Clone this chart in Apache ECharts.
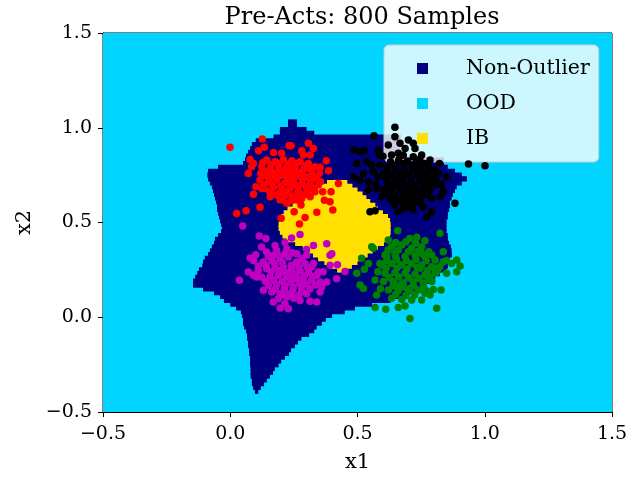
<!DOCTYPE html>
<html>
<head>
<meta charset="utf-8">
<script src="https://cdn.jsdelivr.net/npm/echarts@6/dist/echarts.min.js"></script>
<style>
html, body { margin: 0; padding: 0; background: #fff; }
#chart { width: 641px; height: 478px; }
</style>
</head>
<body>
<div id="chart"></div>
<script>
// axis limits / ticks
const xLim = [-0.5, 1.5];
const yLim = [-0.5, 1.5];
const tickStep = 0.5;
const cellH = 0.02; // height of one decision-map row

// decision map rows: [row centre y, x from, x to]
const nonOutlierRows = [
  [1.03, 0.227, 0.262], [1.01, 0.227, 0.262], [0.99, 0.195, 0.30], [0.97, 0.195, 0.33],
  [0.95, 0.17, 0.67], [0.93, 0.10, 0.67], [0.91, 0.085, 0.67], [0.89, 0.078, 0.67],
  [0.87, 0.07, 0.67], [0.85, 0.062, 0.68], [0.83, 0.058, 0.84], [0.81, 0.05, 0.84],
  [0.79, -0.048, 0.855], [0.77, -0.087, 0.883], [0.75, -0.09, 0.91], [0.73, -0.087, 0.93],
  [0.71, -0.08, 0.91], [0.69, -0.072, 0.89], [0.67, -0.068, 0.883], [0.65, -0.064, 0.875],
  [0.63, -0.06, 0.87], [0.61, -0.056, 0.863], [0.59, -0.052, 0.863], [0.57, -0.052, 0.86],
  [0.55, -0.048, 0.855], [0.53, -0.044, 0.855], [0.51, -0.04, 0.85], [0.49, -0.036, 0.85],
  [0.47, -0.032, 0.85], [0.45, -0.036, 0.85], [0.43, -0.048, 0.855], [0.41, -0.06, 0.855],
  [0.39, -0.064, 0.86], [0.37, -0.072, 0.867], [0.35, -0.08, 0.87], [0.33, -0.087, 0.871],
  [0.31, -0.10, 0.863], [0.29, -0.107, 0.855], [0.27, -0.11, 0.855], [0.25, -0.123, 0.848],
  [0.23, -0.13, 0.824], [0.21, -0.138, 0.805], [0.19, -0.146, 0.785], [0.17, -0.146, 0.765],
  [0.15, -0.107, 0.738], [0.13, -0.064, 0.706], [0.11, -0.04, 0.687], [0.09, -0.025, 0.63],
  [0.07, 0.0, 0.557], [0.05, 0.023, 0.49], [0.03, 0.042, 0.45], [0.01, 0.046, 0.40],
  [-0.01, 0.05, 0.376], [-0.03, 0.05, 0.36], [-0.05, 0.054, 0.34], [-0.07, 0.062, 0.33],
  [-0.09, 0.066, 0.31], [-0.11, 0.066, 0.28], [-0.13, 0.07, 0.266], [-0.15, 0.07, 0.254],
  [-0.17, 0.074, 0.239], [-0.19, 0.074, 0.231], [-0.21, 0.078, 0.215], [-0.23, 0.078, 0.20],
  [-0.25, 0.078, 0.19], [-0.27, 0.08, 0.175], [-0.29, 0.08, 0.168], [-0.31, 0.08, 0.156],
  [-0.33, 0.085, 0.144], [-0.35, 0.085, 0.133], [-0.37, 0.09, 0.12], [-0.39, 0.097, 0.11]
];

const ibRows = [
  [0.71, 0.38, 0.46], [0.69, 0.35, 0.48], [0.67, 0.32, 0.50], [0.65, 0.30, 0.52],
  [0.63, 0.285, 0.535], [0.61, 0.265, 0.55], [0.59, 0.245, 0.57], [0.57, 0.225, 0.58],
  [0.55, 0.21, 0.60], [0.53, 0.20, 0.62], [0.51, 0.195, 0.628], [0.49, 0.19, 0.63],
  [0.47, 0.19, 0.63], [0.45, 0.195, 0.63], [0.43, 0.205, 0.628], [0.41, 0.22, 0.62],
  [0.39, 0.255, 0.604], [0.37, 0.285, 0.58], [0.35, 0.31, 0.56], [0.33, 0.325, 0.54],
  [0.31, 0.345, 0.52], [0.29, 0.37, 0.50], [0.27, 0.39, 0.478], [0.25, 0.42, 0.45]
];

// samples [x1, x2]
const redPts = [
  [-0.001, 0.897], [0.126, 0.940], [0.134, 0.897], [0.231, 0.905], [0.239, 0.905], [0.307, 0.918],
  [0.327, 0.891], [0.111, 0.879], [0.170, 0.870], [0.202, 0.865], [0.281, 0.879], [0.288, 0.856],
  [0.314, 0.856], [0.078, 0.833], [0.091, 0.812], [0.071, 0.759], [0.084, 0.794], [0.377, 0.826],
  [0.386, 0.773], [0.353, 0.791], [0.425, 0.706], [0.363, 0.662], [0.396, 0.662], [0.370, 0.618],
  [0.392, 0.610], [0.403, 0.566], [0.340, 0.554], [0.294, 0.527], [0.272, 0.492], [0.251, 0.557],
  [0.200, 0.522], [0.278, 0.592], [0.314, 0.636], [0.117, 0.580], [0.062, 0.562], [0.025, 0.548],
  [0.091, 0.649], [0.101, 0.689], [0.124, 0.680], [0.156, 0.663], [0.196, 0.619], [0.222, 0.601],
  [0.261, 0.619],
  [0.143, 0.830], [0.176, 0.821], [0.209, 0.833], [0.242, 0.826], [0.274, 0.821], [0.307, 0.812],
  [0.333, 0.794], [0.124, 0.794], [0.157, 0.786], [0.189, 0.798], [0.222, 0.791], [0.255, 0.794],
  [0.288, 0.780], [0.320, 0.768], [0.137, 0.750], [0.170, 0.759], [0.202, 0.750], [0.235, 0.763],
  [0.268, 0.745], [0.301, 0.742], [0.340, 0.733], [0.117, 0.724], [0.150, 0.715], [0.183, 0.724],
  [0.215, 0.710], [0.248, 0.720], [0.281, 0.706], [0.314, 0.703], [0.346, 0.698], [0.137, 0.680],
  [0.170, 0.685], [0.202, 0.675], [0.235, 0.680], [0.268, 0.668], [0.301, 0.671], [0.333, 0.662],
  [0.183, 0.645], [0.215, 0.640], [0.248, 0.636], [0.281, 0.627], [0.222, 0.662], [0.255, 0.698],
  [0.196, 0.777], [0.288, 0.742], [0.327, 0.742], [0.163, 0.742], [0.261, 0.768], [0.229, 0.733],
  [0.307, 0.645], [0.157, 0.636],
  [0.128, 0.815], [0.160, 0.805], [0.193, 0.812], [0.226, 0.808], [0.260, 0.812], [0.293, 0.800],
  [0.145, 0.770], [0.178, 0.765], [0.212, 0.772], [0.245, 0.778], [0.278, 0.760], [0.310, 0.785],
  [0.150, 0.733], [0.185, 0.740], [0.218, 0.745], [0.252, 0.738], [0.285, 0.725], [0.318, 0.722],
  [0.130, 0.700], [0.165, 0.700], [0.198, 0.692], [0.232, 0.698], [0.265, 0.690], [0.298, 0.688],
  [0.328, 0.680], [0.160, 0.660], [0.195, 0.658], [0.230, 0.652], [0.262, 0.655], [0.290, 0.648],
  [0.205, 0.620], [0.240, 0.615], [0.120, 0.760], [0.350, 0.760], [0.355, 0.715]
];

const blackPts = [
  [0.565, 0.958], [0.647, 1.002], [0.647, 0.953], [0.621, 0.909], [0.667, 0.918], [0.700, 0.935],
  [0.719, 0.918], [0.726, 0.891], [0.687, 0.891], [0.660, 0.865], [0.752, 0.856], [0.785, 0.830],
  [0.719, 0.847], [0.634, 0.856], [0.510, 0.874], [0.526, 0.879], [0.484, 0.882], [0.582, 0.882],
  [0.586, 0.856], [0.497, 0.812], [0.536, 0.821], [0.556, 0.803], [0.588, 0.803], [0.484, 0.742],
  [0.523, 0.759], [0.562, 0.768], [0.510, 0.724], [0.543, 0.715], [0.543, 0.671], [0.575, 0.680],
  [0.549, 0.557], [0.569, 0.562], [0.660, 0.557], [0.680, 0.575], [0.719, 0.566], [0.759, 0.583],
  [0.791, 0.557], [0.772, 0.531], [0.746, 0.601], [0.791, 0.627], [0.824, 0.636], [0.883, 0.601],
  [0.822, 0.812], [0.936, 0.809], [1.001, 0.800], [0.818, 0.759], [0.850, 0.742], [0.811, 0.698],
  [0.785, 0.671], [0.837, 0.663],
  [0.615, 0.795], [0.647, 0.803], [0.680, 0.812], [0.713, 0.803], [0.746, 0.795], [0.778, 0.795],
  [0.805, 0.777], [0.601, 0.759], [0.634, 0.751], [0.667, 0.763], [0.700, 0.756], [0.733, 0.759],
  [0.765, 0.751], [0.798, 0.742], [0.615, 0.715], [0.647, 0.707], [0.680, 0.715], [0.713, 0.710],
  [0.746, 0.715], [0.778, 0.707], [0.601, 0.671], [0.634, 0.663], [0.667, 0.671], [0.700, 0.663],
  [0.733, 0.668], [0.765, 0.663], [0.628, 0.627], [0.660, 0.619], [0.693, 0.627], [0.726, 0.619],
  [0.752, 0.636], [0.647, 0.592], [0.687, 0.592], [0.719, 0.601], [0.654, 0.724], [0.719, 0.680],
  [0.759, 0.689], [0.687, 0.689], [0.628, 0.689], [0.791, 0.715], [0.595, 0.636],
  [0.630, 0.820], [0.662, 0.830], [0.697, 0.825], [0.730, 0.818], [0.762, 0.812], [0.618, 0.778],
  [0.650, 0.785], [0.684, 0.780], [0.717, 0.785], [0.750, 0.776], [0.782, 0.770], [0.612, 0.738],
  [0.645, 0.735], [0.678, 0.742], [0.712, 0.735], [0.745, 0.738], [0.778, 0.730], [0.808, 0.725],
  [0.620, 0.700], [0.655, 0.695], [0.690, 0.702], [0.722, 0.695], [0.760, 0.705], [0.612, 0.650],
  [0.645, 0.645], [0.678, 0.650], [0.712, 0.645], [0.745, 0.650], [0.775, 0.648], [0.640, 0.608],
  [0.675, 0.610], [0.705, 0.615], [0.738, 0.612], [0.700, 0.580], [0.580, 0.740], [0.570, 0.700],
  [0.830, 0.700], [0.600, 0.850], [0.680, 0.855], [0.745, 0.835]
];

const magentaPts = [
  [0.049, 0.481], [0.114, 0.429], [0.140, 0.415], [0.241, 0.418], [0.274, 0.437], [0.215, 0.394],
  [0.176, 0.379], [0.123, 0.371], [0.327, 0.379], [0.379, 0.388], [0.300, 0.358], [0.399, 0.335],
  [0.392, 0.327], [0.078, 0.313], [0.091, 0.300], [0.036, 0.195], [0.130, 0.142], [0.169, 0.080],
  [0.215, 0.071], [0.196, 0.049], [0.228, 0.045], [0.274, 0.089], [0.313, 0.084], [0.340, 0.080],
  [0.353, 0.133], [0.359, 0.159], [0.379, 0.186], [0.418, 0.203], [0.392, 0.274], [0.421, 0.277],
  [0.451, 0.242], [0.346, 0.239], [0.327, 0.283], [0.104, 0.212], [0.091, 0.221], [0.110, 0.247],
  [0.071, 0.239],
  [0.143, 0.344], [0.182, 0.353], [0.222, 0.362], [0.261, 0.335], [0.300, 0.327], [0.130, 0.291],
  [0.163, 0.300], [0.196, 0.309], [0.228, 0.318], [0.261, 0.291], [0.294, 0.283], [0.320, 0.265],
  [0.143, 0.256], [0.176, 0.260], [0.209, 0.265], [0.241, 0.256], [0.274, 0.247], [0.307, 0.239],
  [0.340, 0.221], [0.123, 0.212], [0.156, 0.212], [0.189, 0.221], [0.222, 0.212], [0.254, 0.207],
  [0.287, 0.203], [0.320, 0.195], [0.353, 0.186], [0.150, 0.168], [0.182, 0.172], [0.215, 0.168],
  [0.248, 0.159], [0.281, 0.154], [0.313, 0.151], [0.163, 0.133], [0.196, 0.124], [0.235, 0.124],
  [0.268, 0.115], [0.189, 0.098], [0.222, 0.107], [0.209, 0.239], [0.248, 0.221], [0.169, 0.327],
  [0.274, 0.177], [0.300, 0.124],
  [0.150, 0.320], [0.185, 0.330], [0.215, 0.335], [0.245, 0.340], [0.280, 0.310], [0.140, 0.275],
  [0.175, 0.282], [0.205, 0.288], [0.240, 0.275], [0.270, 0.265], [0.305, 0.258], [0.160, 0.240],
  [0.192, 0.245], [0.228, 0.235], [0.260, 0.228], [0.292, 0.222], [0.325, 0.215], [0.138, 0.190],
  [0.170, 0.195], [0.205, 0.190], [0.238, 0.185], [0.268, 0.195], [0.300, 0.175], [0.335, 0.170],
  [0.178, 0.150], [0.212, 0.145], [0.245, 0.140], [0.280, 0.135], [0.205, 0.120], [0.250, 0.100],
  [0.110, 0.270], [0.100, 0.330], [0.365, 0.240]
];

const greenPts = [
  [0.658, 0.457], [0.824, 0.443], [0.556, 0.372], [0.562, 0.364], [0.621, 0.408], [0.706, 0.416],
  [0.733, 0.422], [0.765, 0.404], [0.792, 0.328], [0.837, 0.346], [0.890, 0.302], [0.903, 0.270],
  [0.890, 0.240], [0.837, 0.293], [0.516, 0.311], [0.497, 0.232], [0.527, 0.253], [0.510, 0.170],
  [0.523, 0.152], [0.569, 0.196], [0.575, 0.117], [0.569, 0.052], [0.611, 0.042], [0.660, 0.052],
  [0.687, 0.059], [0.706, -0.006], [0.752, 0.091], [0.765, 0.126], [0.785, 0.117], [0.798, 0.147],
  [0.828, 0.144], [0.811, 0.047], [0.588, 0.284], [0.543, 0.284], [0.615, 0.320], [0.752, 0.337],
  [0.805, 0.258], [0.870, 0.284], [0.850, 0.232],
  [0.634, 0.372], [0.674, 0.381], [0.713, 0.364], [0.752, 0.372], [0.608, 0.328], [0.647, 0.337],
  [0.687, 0.320], [0.726, 0.328], [0.765, 0.320], [0.805, 0.302], [0.595, 0.276], [0.634, 0.284],
  [0.674, 0.276], [0.713, 0.284], [0.752, 0.276], [0.792, 0.267], [0.824, 0.267], [0.608, 0.232],
  [0.647, 0.235], [0.687, 0.232], [0.726, 0.228], [0.765, 0.223], [0.805, 0.232], [0.602, 0.188],
  [0.641, 0.188], [0.680, 0.182], [0.719, 0.188], [0.759, 0.179], [0.792, 0.188], [0.621, 0.144],
  [0.660, 0.140], [0.700, 0.135], [0.739, 0.144], [0.634, 0.100], [0.674, 0.094], [0.713, 0.091],
  [0.667, 0.170], [0.706, 0.152], [0.746, 0.258], [0.654, 0.302], [0.785, 0.214],
  [0.650, 0.395], [0.690, 0.398], [0.728, 0.390], [0.620, 0.355], [0.660, 0.355], [0.700, 0.345],
  [0.740, 0.350], [0.780, 0.345], [0.615, 0.300], [0.650, 0.318], [0.692, 0.300], [0.730, 0.305],
  [0.770, 0.298], [0.612, 0.258], [0.655, 0.260], [0.695, 0.255], [0.735, 0.262], [0.775, 0.248],
  [0.815, 0.245], [0.625, 0.210], [0.662, 0.212], [0.700, 0.208], [0.742, 0.205], [0.780, 0.200],
  [0.640, 0.165], [0.680, 0.160], [0.720, 0.165], [0.760, 0.160], [0.650, 0.120], [0.690, 0.115],
  [0.725, 0.118], [0.770, 0.140], [0.580, 0.240], [0.590, 0.150], [0.850, 0.300]
];

const SERIF = 'DejaVu Serif';

function rowItem(params, api) {
  const y = api.value(0);
  const p0 = api.coord([api.value(1), y + cellH / 2]);
  const p1 = api.coord([api.value(2), y - cellH / 2]);
  return {
    type: 'rect',
    shape: { x: p0[0], y: p0[1] - 0.8, width: p1[0] - p0[0], height: p1[1] - p0[1] + 1.6 },
    style: { fill: api.visual('color') }
  };
}

function fullItem(params, api) {
  const p0 = api.coord([api.value(0), api.value(3)]);
  const p1 = api.coord([api.value(1), api.value(2)]);
  return {
    type: 'rect',
    shape: { x: p0[0], y: p0[1], width: p1[0] - p0[0], height: p1[1] - p0[1] },
    style: { fill: api.visual('color') }
  };
}

const fmt = v => (v < 0 ? '\u2212' : '') + Math.abs(v).toFixed(1);

const chart = echarts.init(document.getElementById('chart'), null, { renderer: 'canvas' });
chart.setOption({
  animation: false,
  backgroundColor: '#fff',
  title: {
    text: 'Pre-Acts: 800 Samples',
    left: 357, top: 1, textAlign: 'center',
    textStyle: { fontFamily: SERIF, fontSize: 24, fontWeight: 'normal', color: '#000' }
  },
  grid: { left: 103, right: 29, top: 33, bottom: 66, show: true, borderColor: '#000', borderWidth: 1, backgroundColor: 'transparent' },
  legend: {
    data: ['Non-Outlier', 'OOD', 'IB'],
    orient: 'vertical',
    left: 384, top: 45,
    padding: [13, 9, 13, 33],
    itemWidth: 11, itemHeight: 11, itemGap: 14,
    icon: 'rect',
    selectedMode: false,
    backgroundColor: 'rgba(255,255,255,0.8)',
    borderColor: '#cccccc', borderWidth: 1, borderRadius: 5,
    textStyle: { fontFamily: SERIF, fontSize: 20.5, color: '#000', lineHeight: 20, padding: [0, 0, 0, 33] }
  },
  xAxis: {
    type: 'value', min: xLim[0], max: xLim[1], interval: tickStep,
    splitLine: { show: false },
    axisLine: { onZero: false, lineStyle: { color: '#000' } },
    axisTick: { show: true, inside: false, length: 5, lineStyle: { color: '#000' } },
    axisLabel: { formatter: fmt, fontFamily: SERIF, fontSize: 19, color: '#000', margin: 13 },
    name: 'x1', nameLocation: 'middle', nameGap: 40,
    nameTextStyle: { fontFamily: SERIF, fontSize: 21, color: '#000' }
  },
  yAxis: {
    type: 'value', min: yLim[0], max: yLim[1], interval: tickStep,
    splitLine: { show: false },
    axisLine: { onZero: false, lineStyle: { color: '#000' } },
    axisTick: { show: true, inside: false, length: 5, lineStyle: { color: '#000' } },
    axisLabel: { formatter: fmt, fontFamily: SERIF, fontSize: 19, color: '#000', margin: 11 },
    name: 'x2', nameLocation: 'middle', nameGap: 64,
    nameTextStyle: { fontFamily: SERIF, fontSize: 21, color: '#000' }
  },
  series: [
    { name: 'OOD', type: 'custom', renderItem: fullItem, clip: true,
      itemStyle: { color: '#00D4FF' },
      encode: { x: [0, 1], y: [2, 3] },
      data: [[xLim[0], xLim[1], yLim[0], yLim[1]]], z: 1 },
    { name: 'Non-Outlier', type: 'custom', renderItem: rowItem, clip: true,
      itemStyle: { color: '#00007F' },
      encode: { x: [1, 2], y: 0 }, data: nonOutlierRows, z: 2 },
    { name: 'IB', type: 'custom', renderItem: rowItem, clip: true,
      itemStyle: { color: '#FFE000' },
      encode: { x: [1, 2], y: 0 }, data: ibRows, z: 3 },
    { name: 'red', type: 'scatter', data: redPts, symbolSize: 7.5, itemStyle: { color: '#FF0000', opacity: 1 }, z: 4 },
    { name: 'black', type: 'scatter', data: blackPts, symbolSize: 7.5, itemStyle: { color: '#000000', opacity: 1 }, z: 4 },
    { name: 'magenta', type: 'scatter', data: magentaPts, symbolSize: 7.5, itemStyle: { color: '#BF00BF', opacity: 1 }, z: 4 },
    { name: 'green', type: 'scatter', data: greenPts, symbolSize: 7.5, itemStyle: { color: '#008000', opacity: 1 }, z: 4 }
  ]
});
</script>
</body>
</html>
